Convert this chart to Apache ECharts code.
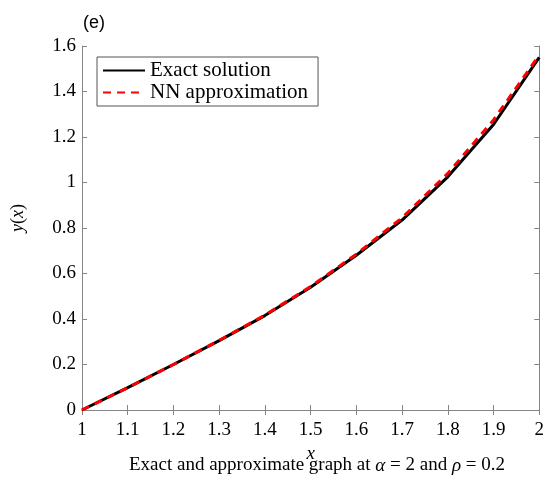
<!DOCTYPE html>
<html>
<head>
<meta charset="utf-8">
<script src="https://cdn.jsdelivr.net/npm/echarts@6/dist/echarts.min.js"></script>
<style>
	html, body { margin: 0; padding: 0; background: #fff; }
	#chart { width: 547px; height: 486px; }
</style>
</head>
<body>
<div id="chart"></div>
<script>
	// x 取值
	var xValues = [1, 1.1, 1.2, 1.3, 1.4, 1.5, 1.6, 1.7, 1.8, 1.9, 2];
	// 精确解
	var exactValues = [0, 0.098, 0.2, 0.305, 0.415, 0.54, 0.68, 0.835, 1.025, 1.255, 1.55];
	// 神经网络近似
	var nnValues = [0, 0.098, 0.2, 0.306, 0.417, 0.543, 0.685, 0.845, 1.04, 1.275, 1.56];

	var seriesNames = ['Exact solution', 'NN approximation'];
	var axisColor = '#858585';
	var serif = '"Liberation Serif", "Times New Roman", serif';

	function pairs(xs, ys){
		return xs.map(function(x, i){
			return [x, ys[i]];
		});
	}

	var chart = echarts.init(document.getElementById('chart'));
	var option = {
		animation: false,
		backgroundColor: '#fff',
		textStyle: { fontFamily: serif, color: '#000' },
		title: {
			text: 'Exact and approximate graph at {i|α} = 2 and {i|ρ} = 0.2',
			left: 312,
			top: 451,
			textAlign: 'center',
			textStyle: {
				fontFamily: serif,
				fontWeight: 'normal',
				fontSize: 19,
				color: '#000',
				rich: {
					i: { fontFamily: serif, fontStyle: 'italic', fontSize: 19, color: '#000' }
				}
			}
		},
		graphic: [{
			type: 'text',
			left: 83,
			top: 14,
			style: {
				text: '(e)',
				font: '18px "Liberation Sans", Arial, sans-serif',
				fill: '#000'
			}
		}],
		legend: {
			data: seriesNames,
			orient: 'vertical',
			left: 97,
			top: 57,
			padding: [3, 10, 3, 5],
			itemGap: 1,
			itemWidth: 42,
			itemHeight: 2,
			itemStyle: { opacity: 0 },
			borderColor: '#555',
			borderWidth: 1,
			textStyle: { fontFamily: serif, fontSize: 21, color: '#000', lineHeight: 20 }
		},
		grid: {
			left: 82,
			right: 3,
			top: 46,
			bottom: 76
		},
		xAxis: [{
			type: 'value',
			min: 1,
			max: 2,
			interval: 0.1,
			name: 'x',
			nameLocation: 'middle',
			nameGap: 30,
			nameTextStyle: {
				fontFamily: serif,
				fontStyle: 'italic',
				fontSize: 19,
				color: '#000'
			},
			axisLine: { show: true, lineStyle: { color: axisColor, width: 1 } },
			axisTick: { inside: true, length: 5, lineStyle: { color: axisColor } },
			axisLabel: { fontFamily: serif, fontSize: 19, color: '#000', margin: 11 },
			splitLine: { show: false }
		}, {
			type: 'value',
			position: 'top',
			min: 1,
			max: 2,
			interval: 0.1,
			axisLine: { show: true, lineStyle: { color: axisColor, width: 1 } },
			axisTick: { inside: true, length: 5, lineStyle: { color: axisColor } },
			axisLabel: { show: false },
			splitLine: { show: false }
		}],
		yAxis: [{
			type: 'value',
			min: 0,
			max: 1.6,
			interval: 0.2,
			name: '{i|y}({i|x})',
			nameLocation: 'middle',
			nameRotate: 90,
			nameGap: 55,
			nameTextStyle: {
				fontFamily: serif,
				fontSize: 18,
				color: '#000',
				padding: [0, 0, 0, 20],
				rich: { i: { fontFamily: serif, fontStyle: 'italic', fontSize: 18, color: '#000' } }
			},
			axisLine: { show: true, lineStyle: { color: axisColor, width: 1 } },
			axisTick: { inside: true, length: 5, lineStyle: { color: axisColor } },
			axisLabel: { fontFamily: serif, fontSize: 19, color: '#000', margin: 6 },
			splitLine: { show: false }
		}, {
			type: 'value',
			position: 'right',
			min: 0,
			max: 1.6,
			interval: 0.2,
			axisLine: { show: true, lineStyle: { color: axisColor, width: 1 } },
			axisTick: { inside: true, length: 5, lineStyle: { color: axisColor } },
			axisLabel: { show: false },
			splitLine: { show: false }
		}],
		series: [{
			name: seriesNames[0],
			type: 'line',
			data: pairs(xValues, exactValues),
			symbol: 'none',
			color: '#000',
			lineStyle: { color: '#000', width: 3 }
		}, {
			name: seriesNames[1],
			type: 'line',
			data: pairs(xValues, nnValues),
			symbol: 'none',
			color: '#ff0000',
			lineStyle: { color: '#ff0000', width: 3, type: [8, 6] }
		}]
	};
	chart.setOption(option);
</script>
</body>
</html>
